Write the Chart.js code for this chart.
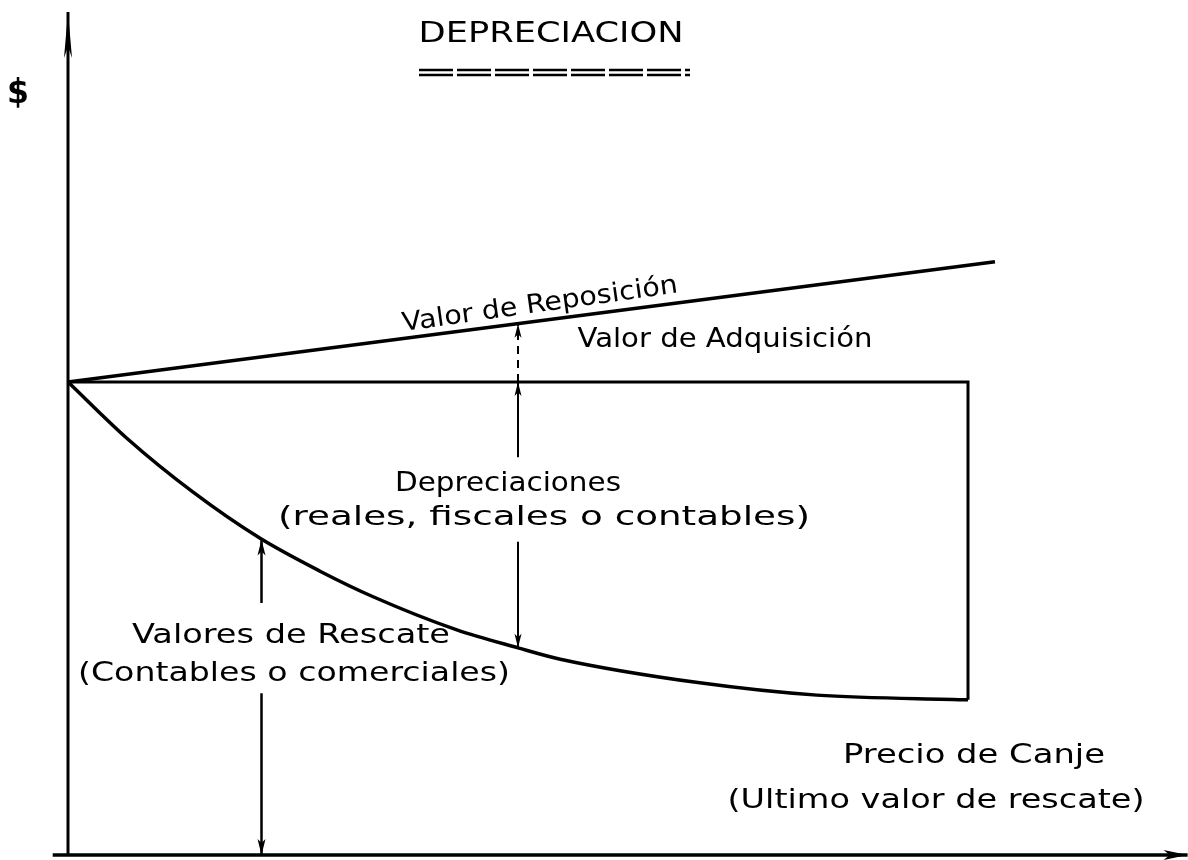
<!DOCTYPE html>
<html>
<head>
<meta charset="utf-8">
<title>Depreciación</title>
<script src="https://cdn.jsdelivr.net/npm/chart.js@4.4.1/dist/chart.umd.min.js"></script>
<style>
  html, body { margin: 0; padding: 0; background: #fff; }
  #wrap { width: 1188px; height: 860px; position: relative; }
</style>
</head>
<body>
<div id="wrap"><canvas id="depChart"></canvas></div>
<script>
// Values
// x = years of use, y = value as % of acquisition price
const acquisitionX = [0, 10, 10];
const acquisitionY = [100, 100, 32.8];

const replacementX = [0, 10.3];
const replacementY = [100, 125.4];

const rescueX = [0, 0.66, 1.39, 2.13, 2.8, 3.39, 4.32, 5, 5.47, 7.02, 8.32, 10];
const rescueY = [100, 88, 76.7, 67, 60, 54.6, 47.6, 43.8, 41.4, 36.4, 33.8, 32.8];

// vertical arrows (null = gap where the text sits)
const riseArrowX = [5, 5];
const riseArrowY = [100, 112.3];
const depArrowX = [5, 5, 5, 5, 5];
const depArrowY = [100, 84.1, null, 66.2, 43.8];
const rescueArrowX = [2.15, 2.15, 2.15, 2.15, 2.15];
const rescueArrowY = [66.7, 53.3, null, 34.2, 0];

const axisX = [-0.17, 12.44];
const axisY = [0, 178.2];

const FONT = '"DejaVu Sans", "Liberation Sans", sans-serif';

function pts(xs, ys) {
    return xs.map((x, i) => ({ x: x, y: ys[i] }));
}

function lineSet(label, data, opts) {
    return Object.assign({
        label: label,
        data: data,
        showLine: true,
        borderColor: '#000',
        borderWidth: 3,
        pointRadius: 0,
        spanGaps: false,
        fill: false
    }, opts || {});
}

function drawHead(ctx, x, y, angle, len, width) {
    ctx.save();
    ctx.translate(x, y);
    ctx.rotate(angle);
    ctx.beginPath();
    ctx.moveTo(0, 0);
    ctx.lineTo(-len, -width / 2);
    ctx.lineTo(-len * 0.75, 0);
    ctx.lineTo(-len, width / 2);
    ctx.closePath();
    ctx.fillStyle = '#000';
    ctx.fill();
    ctx.restore();
}

// the typewriter lettering is wide, so stretch each label to its width
function fitText(ctx, text, cx, cy, font, width, angle) {
    ctx.save();
    ctx.font = font + ' ' + FONT;
    const w = ctx.measureText(text).width;
    ctx.translate(cx, cy);
    if (angle) ctx.rotate(angle);
    ctx.scale(width / w, 1);
    ctx.textAlign = 'center';
    ctx.textBaseline = 'middle';
    ctx.fillText(text, 0, 0);
    ctx.restore();
}

const diagramText = {
    id: 'diagramText',
    afterDatasetsDraw(chart) {
        const ctx = chart.ctx;
        const xs = chart.scales.x, ys = chart.scales.y;
        const px = v => xs.getPixelForValue(v);
        const py = v => ys.getPixelForValue(v);

        // axis arrows
        drawHead(ctx, px(0), py(axisY[1]), -Math.PI / 2, 46, 8);
        drawHead(ctx, px(axisX[1]), py(0), 0, 24, 10);

        // heads on the vertical arrows
        drawHead(ctx, px(riseArrowX[1]), py(riseArrowY[1]), -Math.PI / 2, 14, 7);
        drawHead(ctx, px(depArrowX[0]), py(depArrowY[0]), -Math.PI / 2, 14, 7);
        drawHead(ctx, px(depArrowX[4]), py(depArrowY[4]), Math.PI / 2, 14, 7);
        drawHead(ctx, px(rescueArrowX[0]), py(rescueArrowY[0]), -Math.PI / 2, 16, 8);
        drawHead(ctx, px(rescueArrowX[4]), py(rescueArrowY[4]), Math.PI / 2, 16, 8);

        ctx.save();
        ctx.fillStyle = '#000';
        ctx.strokeStyle = '#000';

        fitText(ctx, 'DEPRECIACION', 551, 34, '29px', 265);
        ctx.lineWidth = 2.5;
        ctx.setLineDash([34, 4]);
        [70, 75].forEach(yy => {
            ctx.beginPath();
            ctx.moveTo(419, yy);
            ctx.lineTo(690, yy);
            ctx.stroke();
        });
        ctx.setLineDash([]);

        fitText(ctx, '$', 18, 94, 'bold 34px', 22);

        fitText(ctx, 'Valor de Reposición', 540, 305, '26px', 278, -8 * Math.PI / 180);
        fitText(ctx, 'Valor de Adquisición', 725, 340, '27px', 295);
        fitText(ctx, 'Depreciaciones', 508, 484, '27px', 226);
        fitText(ctx, '(reales, fiscales o contables)', 544, 518, '27px', 532);
        fitText(ctx, 'Valores de Rescate', 291, 636, '27px', 318);
        fitText(ctx, '(Contables o comerciales)', 294, 674, '27px', 432);
        fitText(ctx, 'Precio de Canje', 974, 756, '26px', 262);
        fitText(ctx, '(Ultimo valor de rescate)', 936, 801, '26px', 417);

        ctx.restore();
    }
};

const ctx = document.getElementById('depChart');
new Chart(ctx, {
    type: 'scatter',
    data: {
        datasets: [
            lineSet('Eje X', [{ x: axisX[0], y: 0 }, { x: axisX[1], y: 0 }], { borderWidth: 3.5 }),
            lineSet('Eje Y', [{ x: 0, y: 0 }, { x: 0, y: axisY[1] }], { borderWidth: 3 }),
            lineSet('Valor de Adquisición', pts(acquisitionX, acquisitionY), { borderWidth: 3 }),
            lineSet('Valor de Reposición', pts(replacementX, replacementY), { borderWidth: 3.5 }),
            lineSet('Valores de Rescate', pts(rescueX, rescueY), { borderWidth: 3.5, cubicInterpolationMode: 'monotone' }),
            lineSet('Aumento', pts(riseArrowX, riseArrowY), { borderWidth: 2, borderDash: [8, 6] }),
            lineSet('Depreciaciones', pts(depArrowX, depArrowY), { borderWidth: 2 }),
            lineSet('Rescate', pts(rescueArrowX, rescueArrowY), { borderWidth: 2.5 })
        ]
    },
    options: {
        responsive: true,
        maintainAspectRatio: false,
        animation: false,
        layout: { padding: 0 },
        plugins: {
            legend: { display: false },
            tooltip: { enabled: false },
            title: { display: false }
        },
        scales: {
            x: { type: 'linear', min: -0.7556, max: 12.4444, display: false },
            y: { type: 'linear', min: -1.057, max: 180.76, display: false }
        }
    },
    plugins: [diagramText]
});
</script>
</body>
</html>
